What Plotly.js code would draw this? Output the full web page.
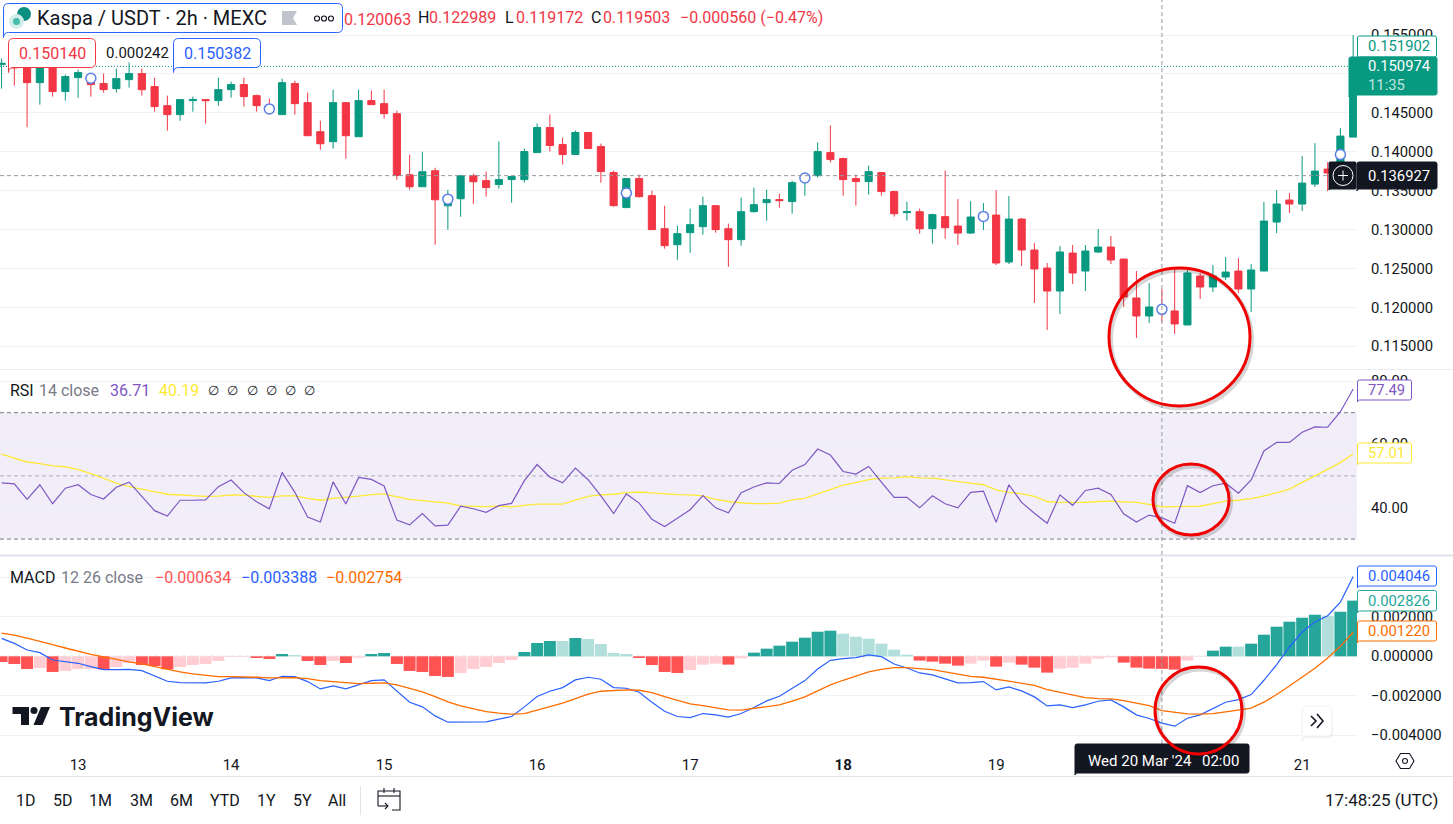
<!DOCTYPE html>
<html>
<head>
<meta charset="utf-8">
<script src="https://cdn.plot.ly/plotly-3.0.1.min.js"></script>
<style>html,body{margin:0;padding:0;background:#fff;overflow:hidden}#chart{width:1453px;height:824px}</style>
</head>
<body>
<div id="chart"></div>
<script>
const opens = [
0.15120,0.15142,0.15099,0.14888,0.15077,0.14773,0.14953,0.14897,0.14876,0.14811,
0.14927,0.15004,0.14837,0.14592,0.14477,0.14657,0.14670,0.14657,0.14798,0.14863,
0.14721,0.14575,0.14477,0.14876,0.14631,0.14258,0.14129,0.14631,0.14193,0.14657,
0.14618,0.14489,0.13704,0.13550,0.13756,0.13305,0.13396,0.13692,0.13629,0.13578,
0.13642,0.13642,0.13989,0.14311,0.14092,0.13964,0.14247,0.14067,0.13732,0.13282,
0.13655,0.13436,0.13011,0.12805,0.12960,0.13037,0.13307,0.13011,0.12870,0.13230,
0.13346,0.13385,0.13359,0.13616,0.13693,0.13989,0.13912,0.13655,0.13616,0.13732,
0.13488,0.13217,0.13230,0.13011,0.13166,0.13045,0.12955,0.13122,0.13186,0.12583,
0.13135,0.12737,0.12506,0.12210,0.12698,0.12467,0.12711,0.12775,0.12621,0.12121,
0.11889,0.12009,0.11954,0.11774,0.12403,0.12262,0.12390,0.12467,0.12236,0.12467,
0.13096,0.13379,0.13328,0.13584,0.13777,0.13764,0.14188];
const closes = [
0.15137,0.15077,0.14888,0.15077,0.14773,0.14966,0.15017,0.14863,0.14798,0.14940,
0.15004,0.14798,0.14580,0.14477,0.14670,0.14670,0.14657,0.14798,0.14863,0.14708,
0.14592,0.14520,0.14888,0.14618,0.14206,0.14103,0.14631,0.14206,0.14657,0.14605,
0.14489,0.13696,0.13550,0.13743,0.13383,0.13426,0.13692,0.13614,0.13539,0.13642,
0.13681,0.14002,0.14311,0.14080,0.13964,0.14247,0.14041,0.13745,0.13307,0.13655,
0.13423,0.12999,0.12793,0.12947,0.13063,0.13307,0.12999,0.12870,0.13230,0.13320,
0.13385,0.13372,0.13603,0.13693,0.14002,0.13899,0.13642,0.13616,0.13745,0.13488,
0.13204,0.13230,0.13011,0.13192,0.13024,0.12955,0.13161,0.13208,0.12570,0.13135,
0.12737,0.12493,0.12210,0.12711,0.12442,0.12724,0.12775,0.12609,0.12133,0.11889,
0.12005,0.11924,0.11787,0.12442,0.12262,0.12403,0.12454,0.12236,0.12480,0.13109,
0.13328,0.13328,0.13597,0.13751,0.13726,0.14201,0.15189];
const highs = [
0.15197,0.15185,0.15142,0.15120,0.15107,0.14991,0.15056,0.14991,0.15004,0.15069,
0.15146,0.15069,0.14953,0.14721,0.14670,0.14708,0.14670,0.14953,0.14901,0.14953,
0.14734,0.14683,0.14940,0.14914,0.14760,0.14399,0.14798,0.14631,0.14798,0.14786,
0.14798,0.14528,0.13962,0.14000,0.13794,0.13511,0.13692,0.13717,0.13745,0.14131,
0.13681,0.14041,0.14363,0.14479,0.14183,0.14273,0.14247,0.14105,0.13758,0.13655,
0.13706,0.13500,0.13307,0.13050,0.13269,0.13423,0.13307,0.13076,0.13410,0.13539,
0.13513,0.13462,0.13629,0.13728,0.14118,0.14337,0.13925,0.13706,0.13822,0.13732,
0.13500,0.13359,0.13269,0.13204,0.13758,0.13392,0.13366,0.13340,0.13507,0.13430,
0.13148,0.12827,0.12570,0.12788,0.12801,0.12801,0.13007,0.12917,0.12621,0.12467,
0.12313,0.12236,0.12502,0.12480,0.12437,0.12544,0.12647,0.12634,0.12557,0.13353,
0.13507,0.13469,0.13944,0.14111,0.13867,0.14303,0.15498];
const lows = [
0.14811,0.14850,0.14314,0.14605,0.14708,0.14657,0.14695,0.14708,0.14760,0.14760,
0.14824,0.14721,0.14515,0.14271,0.14399,0.14515,0.14361,0.14592,0.14695,0.14580,
0.14515,0.14485,0.14477,0.14477,0.14206,0.14026,0.14039,0.13910,0.14193,0.14605,
0.14425,0.13640,0.13511,0.13550,0.12804,0.12997,0.13164,0.13331,0.13423,0.13526,
0.13346,0.13603,0.13989,0.14002,0.13835,0.13964,0.14041,0.13603,0.13294,0.13282,
0.13410,0.12999,0.12754,0.12612,0.12702,0.12934,0.12960,0.12522,0.12793,0.13217,
0.13114,0.13282,0.13204,0.13436,0.13668,0.13861,0.13436,0.13307,0.13449,0.13436,
0.13166,0.13114,0.12947,0.12818,0.12883,0.12801,0.12942,0.12994,0.12544,0.12557,
0.12531,0.12056,0.11710,0.11915,0.12300,0.12210,0.12698,0.12557,0.12005,0.11607,
0.11800,0.11817,0.11658,0.11774,0.12108,0.12198,0.12352,0.12185,0.11941,0.12467,
0.12955,0.13212,0.13238,0.13546,0.13494,0.13764,0.14188];
const eventBars = [7,21,35,49,63,77,91,105];
const eventPrices = [0.14944,0.14550,0.13391,0.13470,0.13663,0.13169,0.11975,0.13965];
const rsi = [
47.8,47.5,42.6,47.2,41.2,46.1,47.2,44.1,42.7,46.4,
48.0,43.5,39.0,37.3,42.3,42.3,42.4,46.6,48.7,44.7,
41.8,39.6,51.1,44.8,37.0,35.4,48.1,41.1,49.5,48.9,
46.8,36.0,34.5,38.1,34.2,34.4,40.4,39.6,38.5,40.6,
41.3,48.5,53.6,49.6,47.8,52.5,48.8,43.7,38.1,44.3,
41.4,36.3,34.0,36.6,39.3,43.8,39.9,38.3,44.7,46.5,
47.8,47.6,51.8,53.6,58.5,56.6,51.4,50.6,53.0,48.0,
43.2,43.2,39.9,43.7,41.2,39.9,44.8,45.2,35.3,47.2,
41.6,38.2,35.0,44.0,40.7,45.4,46.1,44.1,38.0,35.4,
37.6,36.7,35.0,46.9,44.7,46.9,47.7,44.5,48.7,57.9,
60.6,60.6,63.8,65.5,65.4,70.3,77.5];
const rsiMa = [
56.9,55.6,54.4,53.9,53.2,52.9,52.0,50.7,49.1,47.7,
46.6,45.9,45.0,44.2,43.9,43.6,43.5,43.6,44.0,43.9,
43.5,43.2,43.7,43.7,42.9,42.3,42.9,43.2,43.6,44.1,
44.3,43.4,42.6,42.2,41.7,41.4,40.5,40.3,40.3,40.5,
40.2,40.7,41.1,41.1,41.1,42.3,43.5,44.0,44.2,44.7,
44.9,44.6,44.3,44.1,44.0,43.7,42.6,41.9,41.5,41.2,
41.2,41.4,42.4,42.9,44.3,45.8,47.1,47.9,48.8,49.3,
49.4,49.8,49.4,49.3,48.7,48.2,47.7,47.2,45.6,44.8,
44.3,43.5,41.9,41.6,41.5,41.6,41.9,42.0,41.8,41.6,
41.0,40.2,40.3,40.3,40.4,41.2,42.0,42.3,42.8,43.7,
44.6,45.8,47.9,50.0,51.9,54.2,57.0];
const macdHist = [
-0.000287,-0.000388,-0.000641,-0.000591,-0.000793,-0.000743,-0.000641,-0.000641,-0.000658,-0.000540,
-0.000338,-0.000439,-0.000490,-0.000658,-0.000540,-0.000439,-0.000388,-0.000236,-0.000034,-0.000034,
-0.000084,-0.000135,0.000118,0.000068,-0.000236,-0.000439,-0.000236,-0.000338,-0.000068,0.000118,
0.000169,-0.000388,-0.000743,-0.000793,-0.000996,-0.001047,-0.000844,-0.000641,-0.000540,-0.000338,
-0.000186,0.000219,0.000675,0.000776,0.000776,0.000928,0.000878,0.000625,0.000169,0.000118,
-0.000084,-0.000439,-0.000793,-0.000844,-0.000692,-0.000422,-0.000371,-0.000422,-0.000101,0.000186,
0.000388,0.000540,0.000743,0.000945,0.001249,0.001300,0.001148,0.000996,0.000895,0.000641,
0.000338,0.000084,-0.000219,-0.000270,-0.000371,-0.000473,-0.000371,-0.000219,-0.000523,-0.000321,
-0.000422,-0.000574,-0.000827,-0.000625,-0.000574,-0.000371,-0.000118,-0.000051,-0.000321,-0.000574,
-0.000625,-0.000634,-0.000675,-0.000219,-0.000017,0.000287,0.000490,0.000490,0.000641,0.001097,
0.001502,0.001756,0.001958,0.002110,0.002059,0.002262,0.002826];
const macdLine = [
0.000912,0.000658,0.000321,0.000186,-0.000186,-0.000287,-0.000354,-0.000523,-0.000675,-0.000675,
-0.000658,-0.000726,-0.000996,-0.001266,-0.001334,-0.001350,-0.001350,-0.001266,-0.001097,-0.001080,
-0.001097,-0.001232,-0.001013,-0.001030,-0.001283,-0.001654,-0.001502,-0.001654,-0.001452,-0.001232,
-0.001198,-0.001739,-0.002329,-0.002566,-0.003022,-0.003342,-0.003325,-0.003308,-0.003325,-0.003190,
-0.003055,-0.002566,-0.002042,-0.001772,-0.001587,-0.001198,-0.001063,-0.001165,-0.001587,-0.001620,
-0.001823,-0.002329,-0.002785,-0.003055,-0.003106,-0.002903,-0.002971,-0.003089,-0.002903,-0.002600,
-0.002262,-0.002026,-0.001637,-0.001232,-0.000641,-0.000203,-0.000118,-0.000068,0.000068,-0.000017,
-0.000388,-0.000591,-0.000844,-0.000945,-0.001148,-0.001350,-0.001334,-0.001283,-0.001705,-0.001553,
-0.001756,-0.002059,-0.002515,-0.002464,-0.002600,-0.002464,-0.002279,-0.002211,-0.002566,-0.002971,
-0.003157,-0.003388,-0.003545,-0.003140,-0.002971,-0.002633,-0.002329,-0.002194,-0.001941,-0.001215,
-0.000422,0.000473,0.001232,0.001739,0.002059,0.002751,0.004046];
const macdSignal = [
0.001182,0.001080,0.000928,0.000776,0.000591,0.000422,0.000253,0.000101,-0.000034,-0.000169,
-0.000287,-0.000388,-0.000523,-0.000675,-0.000793,-0.000895,-0.000979,-0.001030,-0.001030,-0.001030,
-0.001063,-0.001097,-0.001097,-0.001080,-0.001131,-0.001232,-0.001283,-0.001350,-0.001384,-0.001367,
-0.001350,-0.001452,-0.001620,-0.001806,-0.002042,-0.002313,-0.002515,-0.002667,-0.002802,-0.002886,
-0.002937,-0.002903,-0.002735,-0.002566,-0.002380,-0.002144,-0.001924,-0.001772,-0.001722,-0.001705,
-0.001722,-0.001840,-0.002042,-0.002245,-0.002414,-0.002498,-0.002616,-0.002718,-0.002735,-0.002650,
-0.002549,-0.002464,-0.002279,-0.002059,-0.001756,-0.001452,-0.001215,-0.001013,-0.000793,-0.000658,
-0.000574,-0.000574,-0.000608,-0.000675,-0.000793,-0.000912,-0.001013,-0.001063,-0.001165,-0.001249,
-0.001334,-0.001469,-0.001688,-0.001823,-0.001975,-0.002093,-0.002144,-0.002161,-0.002245,-0.002380,
-0.002498,-0.002754,-0.002853,-0.002920,-0.002937,-0.002903,-0.002819,-0.002718,-0.002633,-0.002329,
-0.001941,-0.001502,-0.001047,-0.000608,-0.000084,0.000506,0.001220];
const dayTicks = ['2024-03-13','2024-03-14','2024-03-15','2024-03-16','2024-03-17','2024-03-18','2024-03-19','2024-03-20','2024-03-21'];
const dayLabels = ['13','14','15','16','17','<b>18</b>','19','','21'];
const priceTicks = [0.115,0.12,0.125,0.13,0.135,0.14,0.145,0.15,0.155];
const priceLabels = ['0.115000','0.120000','0.125000','0.130000','0.135000','0.140000','0.145000','','0.155000'];
const rsiTicks = [40,60,80];
const macdTicks = [-0.004,-0.002,0,0.002,0.004];
const macdLabels = ['−0.004000','−0.002000','0.000000','0.002000',''];
const rangeButtons = [['1D',26],['5D',63],['1M',100],['3M',141],['6M',181],['YTD',225],['1Y',266],['5Y',302],['All',337]];
const crossBar = 91, crossPrice = 0.13693, lastPrice = 0.15097;

const FONT = 'Roboto, sans-serif';
const W = 1453, H = 824, PANE_R = 1357;
const X = p => p / W, Y = p => 1 - p / H;
const T0 = Date.UTC(2024, 2, 12, 12), STEP = 2 * 3600e3;
const stamp = ms => new Date(ms).toISOString().slice(0, 16).replace('T', ' ');
const times = opens.map((_, i) => stamp(T0 + i * STEP));
const xRange = [stamp(T0 - 0.118 * STEP), stamp(T0 + 106.3 * STEP)];

const barColors = macdHist.map((v, i) => {
  const prev = i ? macdHist[i - 1] : 0;
  if (v >= 0) return v > prev ? '#26A69A' : '#B2DFDB';
  return v < prev ? '#FF5252' : '#FFCDD2';
});

const traces = [
  {type:'candlestick', x:times, open:opens, high:highs, low:lows, close:closes, xaxis:'x', yaxis:'y',
   increasing:{line:{color:'#089981',width:1},fillcolor:'#089981'},
   decreasing:{line:{color:'#F23645',width:1},fillcolor:'#F23645'},
   whiskerwidth:0, hoverinfo:'skip', showlegend:false},
  {type:'scatter', mode:'markers', x:eventBars.map(i => times[i]), y:eventPrices, xaxis:'x', yaxis:'y',
   marker:{size:10,color:'#ffffff',line:{color:'#5B7FE8',width:1.5}}, hoverinfo:'skip', showlegend:false},
  {type:'scatter', mode:'lines', x:times, y:rsiMa, xaxis:'x', yaxis:'y2', line:{color:'#FDE934',width:1.3}, hoverinfo:'skip', showlegend:false},
  {type:'scatter', mode:'lines', x:times, y:rsi, xaxis:'x', yaxis:'y2', line:{color:'#7E57C2',width:1.2}, hoverinfo:'skip', showlegend:false},
  {type:'bar', x:times, y:macdHist, xaxis:'x', yaxis:'y3', marker:{color:barColors,line:{width:0}}, hoverinfo:'skip', showlegend:false},
  {type:'scatter', mode:'lines', x:times, y:macdLine, xaxis:'x', yaxis:'y3', line:{color:'#2962FF',width:1.2}, hoverinfo:'skip', showlegend:false},
  {type:'scatter', mode:'lines', x:times, y:macdSignal, xaxis:'x', yaxis:'y3', line:{color:'#FF6D00',width:1.3}, hoverinfo:'skip', showlegend:false}
];

const box = (x0, y0, x1, y1, fill, line, r, lw) => {
  const k = r || 0, a = X(x0), b = X(x1), c = Y(y0), d = Y(y1), rx = k / W, ry = k / H;
  return {type:'path', xref:'paper', yref:'paper', layer:'above', fillcolor:fill, line:{color:line || fill, width:lw === undefined ? 1 : lw},
    path:`M${a+rx},${c} L${b-rx},${c} Q${b},${c} ${b},${c-ry} L${b},${d+ry} Q${b},${d} ${b-rx},${d} L${a+rx},${d} Q${a},${d} ${a},${d-ry} L${a},${c-ry} Q${a},${c} ${a+rx},${c} Z`};
};
const poly = (pts, fill, line, lw, closed) => ({type:'path', xref:'paper', yref:'paper', layer:'above',
  fillcolor: fill || 'rgba(0,0,0,0)', line:{color:line || 'rgba(0,0,0,0)', width: lw || 0},
  path: pts.map((p, i) => (i ? 'L' : 'M') + X(p[0]) + ',' + Y(p[1])).join(' ') + (closed ? ' Z' : '')});
const oval = (x0, y0, x1, y1, fill, line, lw) => ({type:'circle', xref:'paper', yref:'paper', layer:'above',
  x0:X(x0), x1:X(x1), y0:Y(y0), y1:Y(y1), fillcolor:fill || 'rgba(0,0,0,0)', line:{color:line || 'rgba(0,0,0,0)', width:lw || 0}});
const hline = (yref, v, color, dash, w) => ({type:'line', xref:'paper', yref, x0:0, x1:X(PANE_R), y0:v, y1:v, layer:'below', line:{color, dash, width:w || 1}});
const pline = (x0, y0, x1, y1, color, w, dash) => ({type:'line', xref:'paper', yref:'paper', layer:'above', x0:X(x0), x1:X(x1), y0:Y(y0), y1:Y(y1), line:{color, width:w || 1, dash: dash || 'solid'}});
const DASH = '4px,3px';

const shapes = [
  {type:'rect', xref:'paper', yref:'y2', x0:0, x1:X(PANE_R), y0:30, y1:70, layer:'below', fillcolor:'rgba(126,87,194,0.1)', line:{width:0}},
  hline('y2', 70, '#787B86', DASH),
  hline('y2', 50, 'rgba(120,123,134,0.55)', DASH),
  hline('y2', 30, '#787B86', DASH),
  hline('y3', 0, 'rgba(120,123,134,0.45)', DASH),
  hline('y', lastPrice, '#089981', '1px,2px'),
  {type:'line', xref:'paper', yref:'y', x0:0, x1:X(PANE_R), y0:crossPrice, y1:crossPrice, layer:'above', line:{color:'#9598A1', dash:DASH, width:1}},
  {type:'line', xref:'x', yref:'paper', x0:times[crossBar], x1:times[crossBar], y0:Y(744), y1:1, layer:'above', line:{color:'#9598A1', dash:DASH, width:1}},
  pline(0, 369.5, W, 369.5, '#E9EBF1', 1),
  pline(0, 555.5, W, 555.5, '#E0E3EB', 2),
  pline(0, 776.5, W, 776.5, '#E0E3EB', 1),
  {type:'rect', xref:'paper', yref:'paper', layer:'above', x0:X(341), x1:X(412), y0:Y(28), y1:Y(8), line:{width:0}, fillcolor:'rgba(0,0,0,0)',
   label:{text:'0.120063', font:{family:FONT,size:16,color:'#F23645'}, textposition:'middle left', padding:0}},
  box(3.5, 3.5, 342.5, 32.5, '#ffffff', '#2962FF', 5),
  oval(17, 7, 31, 21, '#0B8F80'),
  oval(9, 14, 24, 29, '#D2EEEA'),
  oval(13, 18, 20, 25, '#46BDAB'),
  poly([[282,11],[297,11],[293,18],[297,25],[282,25]], '#C1C4CD', null, 0, true),
  oval(314.5, 16, 319.5, 21, null, '#131722', 1.2),
  oval(321.5, 16, 326.5, 21, null, '#131722', 1.2),
  oval(328.5, 16, 333.5, 21, null, '#131722', 1.2),
  box(8.5, 38.5, 95.5, 67.5, '#ffffff', '#F23645', 5),
  box(173.5, 38.5, 260.5, 67.5, '#ffffff', '#2962FF', 5),
  box(1357.5, 36, 1436.5, 57, '#ffffff', '#089981', 2),
  box(1349, 57, 1437, 95, '#089981', '#089981', 2),
  box(1329, 162, 1356, 189, '#131722', '#131722', 1),
  box(1357, 162, 1437, 189, '#131722', '#131722', 2),
  oval(1333, 165.5, 1353, 185.5, null, '#ffffff', 1),
  pline(1338, 175.5, 1348, 175.5, '#ffffff', 1),
  pline(1343, 170.5, 1343, 180.5, '#ffffff', 1),
  box(1357.5, 380, 1411.5, 400, '#ffffff', '#7E57C2', 2),
  box(1357.5, 443, 1411.5, 463, '#ffffff', '#FDE934', 2),
  box(1357.5, 566, 1436.5, 586, '#ffffff', '#2962FF', 2),
  box(1357.5, 590.5, 1436.5, 611, '#ffffff', '#26A69A', 2),
  box(1357.5, 621, 1436.5, 641, '#ffffff', '#FF6D00', 2),
  box(1075, 744, 1249, 773, '#131722', '#131722', 2),
  poly([[12.5,707],[29,707],[29,725],[21,725],[21,714],[12.5,714]], '#131722', null, 0, true),
  oval(30.5, 707, 37.5, 714, '#131722'),
  poly([[41,707],[50,707],[42.5,725],[33.5,725]], '#131722', null, 0, true),
  box(1303, 708, 1333, 738, 'rgba(0,0,0,0.06)', 'rgba(0,0,0,0)', 5, 0),
  box(1302, 706, 1332, 736, '#ffffff', '#F0F1F4', 5),
  poly([[1311,716],[1316,721],[1311,726]], null, '#131722', 1.6),
  poly([[1317,714],[1323,721],[1317,728]], null, '#131722', 1.6),
  poly([[1396,761],[1400.5,753.5],[1409.5,753.5],[1414,761],[1409.5,768.5],[1400.5,768.5]], null, '#131722', 1.1, true),
  oval(1402.5, 758.5, 1407.5, 763.5, null, '#131722', 1.1),
  pline(360.5, 786, 360.5, 815, '#E0E3EB', 1),
  poly([[400,801],[400,791],[378,791],[378,806]], null, '#131722', 1.1),
  pline(378, 796, 400, 796, '#131722', 1.1),
  pline(384, 788, 384, 793, '#131722', 1.1),
  pline(394, 788, 394, 793, '#131722', 1.1),
  poly([[400,801],[400,810],[392,810]], null, '#131722', 1.1),
  pline(378, 806, 388, 806, '#131722', 1.1),
  poly([[385,803],[388,806],[385,809]], null, '#131722', 1.1),
  oval(1111, 270.5, 1252, 408.5, null, 'rgba(0,0,0,0.16)', 4),
  oval(1109, 268, 1250, 406, null, '#F00000', 3),
  oval(1155, 466.5, 1231, 537.5, null, 'rgba(0,0,0,0.16)', 4),
  oval(1153, 464, 1229, 535, null, '#F00000', 3),
  oval(1157, 669.5, 1244, 756.5, null, 'rgba(0,0,0,0.16)', 4),
  oval(1155, 667, 1242, 754, null, '#F00000', 3)
];

const note = (x, y, text, color, size, extra) => Object.assign({xref:'paper', yref:'paper', x:X(x), y:Y(y), text,
  showarrow:false, xanchor:'left', yanchor:'middle', borderpad:0, font:{family:FONT, size:size || 16, color:color || '#131722'}}, extra || {});
const annotations = [
  note(36, 18, 'Kaspa / USDT · 2h · MEXC', '#131722', 20),
  note(417, 18, 'H', '#131722', 16), note(428, 18, '0.122989', '#F23645', 16),
  note(504, 18, 'L', '#131722', 16), note(515, 18, '0.119172', '#F23645', 16),
  note(590, 18, 'C', '#131722', 16), note(602, 18, '0.119503', '#F23645', 16),
  note(679, 18, '−0.000560 (−0.47%)', '#F23645', 16),
  note(52, 53, '0.150140', '#F23645', 16, {xanchor:'center'}),
  note(137, 53, '0.000242', '#131722', 15, {xanchor:'center'}),
  note(217, 53, '0.150382', '#2962FF', 16, {xanchor:'center'}),
  note(9, 390, 'RSI', '#131722', 16), note(38, 390, '14 close', '#787B86', 16),
  note(109, 390, '36.71', '#7E57C2', 16), note(158, 390, '40.19', '#FDE934', 16),
  ...[207,226,246,265,284,303].map(x => note(x, 390, '∅', '#131722', 13)),
  note(9, 577, 'MACD', '#131722', 16), note(60, 577, '12 26 close', '#787B86', 16),
  note(154, 577, '−0.000634', '#FF5252', 16), note(240, 577, '−0.003388', '#2962FF', 16), note(325, 577, '−0.002754', '#FF6D00', 16),
  note(1367, 46, '0.151902', '#089981', 14.8), note(1367, 66, '0.150974', '#ffffff', 14.8),
  note(1367, 85, '11:35', 'rgba(255,255,255,0.75)', 14.8), note(1367, 176, '0.136927', '#ffffff', 14.8),
  note(1367, 390, '77.49', '#7E57C2', 14.8), note(1367, 453, '57.01', '#FDE934', 14.8),
  note(1367, 576, '0.004046', '#2962FF', 14.8), note(1367, 601, '0.002826', '#26A69A', 14.8), note(1367, 631, '0.001220', '#FF6D00', 14.8),
  note(1087, 760.5, "Wed 20 Mar '24", '#ffffff', 15),
  note(1201, 760.5, '02:00', '#ffffff', 15),
  note(58, 717, '<b>TradingView</b>', '#131722', 25, {font:{family:'Inter, sans-serif', size:25, color:'#131722'}}),
  ...rangeButtons.map(b => note(b[1], 800, b[0], '#131722', 16, {xanchor:'center'})),
  note(1439, 800, '17:48:25 (UTC)', '#131722', 17, {xanchor:'right'})
];

const yAxisBase = {anchor:'x', side:'right', showgrid:true, gridcolor:'#F1F2F5', gridwidth:1, zeroline:false, showline:false,
  ticks:'outside', ticklen:10, tickcolor:'rgba(0,0,0,0)', tickfont:{family:FONT,size:14.8,color:'#131722'}, tickmode:'array', fixedrange:true};

const layout = {
  width:W, height:H, margin:{l:0,r:0,t:0,b:0,pad:0}, paper_bgcolor:'#ffffff', plot_bgcolor:'#ffffff',
  showlegend:false, bargap:0.06, boxgap:0.2, dragmode:false, hovermode:false,
  xaxis:{type:'date', domain:[0,X(PANE_R)], range:xRange, anchor:'y3', rangeslider:{visible:false}, showgrid:false, zeroline:false, showline:false,
    tickmode:'array', tickvals:dayTicks, ticktext:dayLabels, ticks:'outside', ticklen:6, tickcolor:'rgba(0,0,0,0)',
    tickfont:{family:FONT,size:15,color:'#131722'}, tickangle:0, fixedrange:true},
  yaxis:Object.assign({}, yAxisBase, {domain:[Y(369),1], range:[0.11208,0.1595], tickvals:priceTicks, ticktext:priceLabels}),
  yaxis2:Object.assign({}, yAxisBase, {domain:[Y(555),Y(370)], range:[24.97,83.51], tickvals:rsiTicks, tickformat:'.2f'}),
  yaxis3:Object.assign({}, yAxisBase, {domain:[Y(745),Y(556)], range:[-0.0045,0.00509], tickvals:macdTicks, ticktext:macdLabels}),
  shapes, annotations
};
Plotly.newPlot('chart', traces, layout, {staticPlot:true, displayModeBar:false});
</script>
</body>
</html>
